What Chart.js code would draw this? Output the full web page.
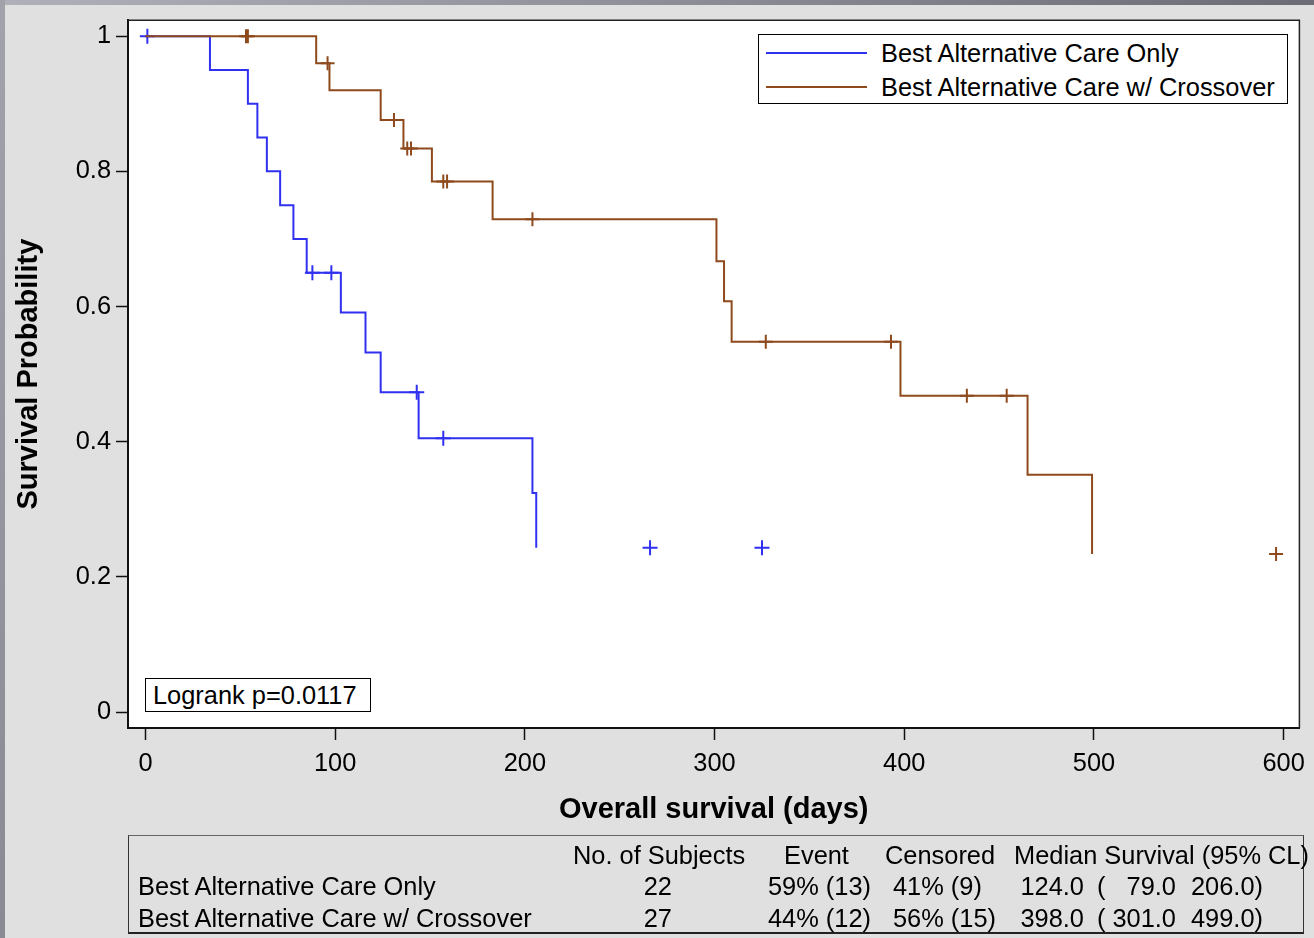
<!DOCTYPE html>
<html>
<head>
<meta charset="utf-8">
<script src="https://cdn.jsdelivr.net/npm/chart.js@4.4.1/dist/chart.umd.min.js"></script>
<style>
html,body{margin:0;padding:0;}
body{width:1314px;height:938px;position:relative;overflow:hidden;background:#e0e0e0;font-family:"Liberation Sans",Arial,sans-serif;color:#000;}
#topbar{position:absolute;left:0;top:0;width:1314px;height:5px;background:linear-gradient(to right,#b0b0b8,#6c6c74);}
#leftbar{position:absolute;left:0;top:0;width:5px;height:938px;background:linear-gradient(to bottom,#a2a2aa,#8a8a92);}
#c{position:absolute;left:0;top:0;}
.box{position:absolute;box-sizing:border-box;background:#fff;border:1px solid #000;}
.t{position:absolute;font-size:25.4px;line-height:30px;white-space:pre;}
.r{text-align:right;}
.lgline{position:absolute;height:2px;}
#table{position:absolute;left:128px;top:835px;width:1176px;height:99px;box-sizing:border-box;border-top:1px solid #666;border-left:1px solid #333;border-right:1px solid #333;border-bottom:2px solid #222;}
</style>
</head>
<body>
<div id="topbar"></div>
<div id="leftbar"></div>
<canvas id="c" width="1314" height="938"></canvas>
<div id="legend" class="box" style="left:758px;top:34px;width:530px;height:70px;"></div>
<div id="logrank" class="box" style="left:145px;top:678px;width:226px;height:34px;"></div>
<div id="table"></div>
<script>
// ---------- data ----------
const seriesNames = ['Best Alternative Care Only', 'Best Alternative Care w/ Crossover'];
const xTicks = [0, 100, 200, 300, 400, 500, 600];
const yTicks = [0, 0.2, 0.4, 0.6, 0.8, 1];
const yTickLabels = ['0', '0.2', '0.4', '0.6', '0.8', '1'];

// Best Alternative Care Only: KM step curve
const bacTime = [0, 34, 54, 59, 64, 71, 78, 85, 103, 116, 124, 144, 204, 206];
const bacSurv = [1, 0.95, 0.90, 0.85, 0.80, 0.75, 0.70, 0.65, 0.591, 0.532, 0.473, 0.405, 0.324, 0.243];
const bacCensTime = [1, 88, 98, 143, 157, 266, 325];
const bacCensSurv = [1, 0.65, 0.65, 0.473, 0.405, 0.243, 0.243];

// Best Alternative Care w/ Crossover
const bacxTime = [0, 90, 97, 124, 136, 151, 183, 301, 305, 309, 398, 465, 499];
const bacxSurv = [1, 0.96, 0.92, 0.876, 0.834, 0.785, 0.729, 0.667, 0.608, 0.548, 0.468, 0.351, 0.234];
const bacxCensTime = [53, 54, 96, 131, 138, 140, 157, 159, 204, 327, 393, 433, 454, 596];
const bacxCensSurv = [1, 1, 0.96, 0.876, 0.834, 0.834, 0.785, 0.785, 0.729, 0.548, 0.548, 0.468, 0.468, 0.234];

const logrankText = 'Logrank p=0.0117';
const xTitle = 'Overall survival (days)';
const yTitle = 'Survival Probability';

// summary table
const tableHeaders = ['No. of Subjects', 'Event', 'Censored', 'Median Survival (95% CL)'];
const nSubjects = [22, 27];
const eventPct = [59, 44];
const eventN = [13, 12];
const censPct = [41, 56];
const censN = [9, 15];
const medianSurv = [124.0, 398.0];
const lowerCL = [79.0, 301.0];
const upperCL = [206.0, 499.0];

// ---------- styling ----------
const FONT = '"Liberation Sans", Arial, sans-serif';
const colors = ['#3030f0', '#8e4a1c'];

const pts = (xs, ys) => xs.map((x, i) => ({x: x, y: ys[i]}));

const bgPlugin = {
  id: 'bg',
  beforeDraw(chart) {
    const {ctx, chartArea: a} = chart;
    ctx.save();
    ctx.fillStyle = '#ffffff';
    ctx.fillRect(a.left, a.top, a.right - a.left, a.bottom - a.top);
    ctx.restore();
  },
  afterDraw(chart) {
    const {ctx, chartArea: a} = chart;
    ctx.save();
    ctx.strokeStyle = '#222';
    ctx.lineWidth = 1.5;
    ctx.beginPath();
    ctx.moveTo(a.left, a.top);
    ctx.lineTo(a.right, a.top);
    ctx.lineTo(a.right, a.bottom);
    ctx.stroke();
    ctx.restore();
  }
};

const tickFont = {size: 25.4, family: FONT};
const titleFont = {size: 29, weight: 'bold', family: FONT};

new Chart(document.getElementById('c'), {
  type: 'scatter',
  data: {
    datasets: [
      {label: seriesNames[0], data: pts(bacTime, bacSurv), showLine: true, stepped: 'before',
       borderColor: colors[0], borderWidth: 2, pointRadius: 0, fill: false, order: 3},
      {label: seriesNames[1], data: pts(bacxTime, bacxSurv), showLine: true, stepped: 'before',
       borderColor: colors[1], borderWidth: 2, pointRadius: 0, fill: false, order: 1},
      {label: seriesNames[0] + ' (censored)', data: pts(bacCensTime, bacCensSurv), showLine: false,
       pointStyle: 'cross', pointRadius: 7.5, borderColor: colors[0], borderWidth: 2, order: 2},
      {label: seriesNames[1] + ' (censored)', data: pts(bacxCensTime, bacxCensSurv), showLine: false,
       pointStyle: 'cross', pointRadius: 7, borderColor: colors[1], borderWidth: 2, order: 0}
    ]
  },
  options: {
    responsive: false,
    animation: false,
    devicePixelRatio: 1,
    layout: {padding: {left: 0, top: 19, right: 12, bottom: 0}},
    plugins: {legend: {display: false}, tooltip: {enabled: false}},
    scales: {
      x: {
        type: 'linear', min: -9.2, max: 608.3,
        afterFit(s) { s.height = 210; },
        afterBuildTicks(s) { s.ticks = xTicks.map(v => ({value: v})); },
        ticks: {font: tickFont, color: '#000', padding: 9, maxRotation: 0, autoSkip: false,
                callback: (v, i) => String(xTicks[i])},
        grid: {drawOnChartArea: false, drawTicks: true, tickLength: 12, tickColor: '#111', tickWidth: 1.5},
        border: {display: true, color: '#111', width: 2},
        title: {display: true, text: xTitle, font: titleFont, color: '#000', padding: {top: 0, bottom: 111}}
      },
      y: {
        type: 'linear', min: -0.0236, max: 1.0236,
        afterFit(s) { s.width = 128; },
        afterBuildTicks(s) { s.ticks = yTicks.map(v => ({value: v})); },
        ticks: {font: tickFont, color: '#000', padding: 5, autoSkip: false,
                callback: (v, i) => yTickLabels[i]},
        grid: {drawOnChartArea: false, drawTicks: true, tickLength: 12, tickColor: '#111', tickWidth: 1.5},
        border: {display: true, color: '#111', width: 2},
        title: {display: true, text: yTitle, font: titleFont, color: '#000', padding: {top: 12, bottom: 0}}
      }
    }
  },
  plugins: [bgPlugin]
});

// ---------- legend ----------
function addText(parent, txt, left, cy, cls) {
  const d = document.createElement('div');
  d.className = 't' + (cls ? ' ' + cls : '');
  d.textContent = txt;
  d.style.left = left + 'px';
  d.style.top = (cy - 15) + 'px';
  parent.appendChild(d);
  return d;
}
function addRight(parent, txt, right, cy) {
  const d = addText(parent, txt, 0, cy, 'r');
  d.style.left = 'auto';
  d.style.width = right + 'px';
  return d;
}
const legend = document.getElementById('legend');
const legendRows = [18, 52];
seriesNames.forEach((name, i) => {
  const ln = document.createElement('div');
  ln.className = 'lgline';
  ln.style.left = '7px';
  ln.style.width = '101px';
  ln.style.top = (legendRows[i] - 1) + 'px';
  ln.style.background = colors[i];
  legend.appendChild(ln);
  addText(legend, name, 122, legendRows[i]);
});

// ---------- logrank ----------
addText(document.getElementById('logrank'), logrankText, 7, 16);

// ---------- table ----------
const tbl = document.getElementById('table');
const ox = 129, oy = 836; // table inner origin on page
const rowY = [855, 886, 918].map(v => v - oy);
const headerX = [573, 784, 885, 1014].map(v => v - ox);
tableHeaders.forEach((h, i) => addText(tbl, h, headerX[i], rowY[0]));
seriesNames.forEach((name, r) => {
  const cy = rowY[r + 1];
  addText(tbl, name, 138 - ox, cy);
  addRight(tbl, String(nSubjects[r]), 672 - ox, cy);
  addText(tbl, eventPct[r] + '% (' + eventN[r] + ')', 768 - ox, cy);
  addText(tbl, censPct[r] + '% (' + censN[r] + ')', 893 - ox, cy);
  addRight(tbl, medianSurv[r].toFixed(1), 1084 - ox, cy);
  addText(tbl, '(', 1097 - ox, cy);
  addRight(tbl, lowerCL[r].toFixed(1), 1176 - ox, cy);
  addRight(tbl, upperCL[r].toFixed(1) + ')', 1263 - ox, cy);
});
</script>
</body>
</html>
